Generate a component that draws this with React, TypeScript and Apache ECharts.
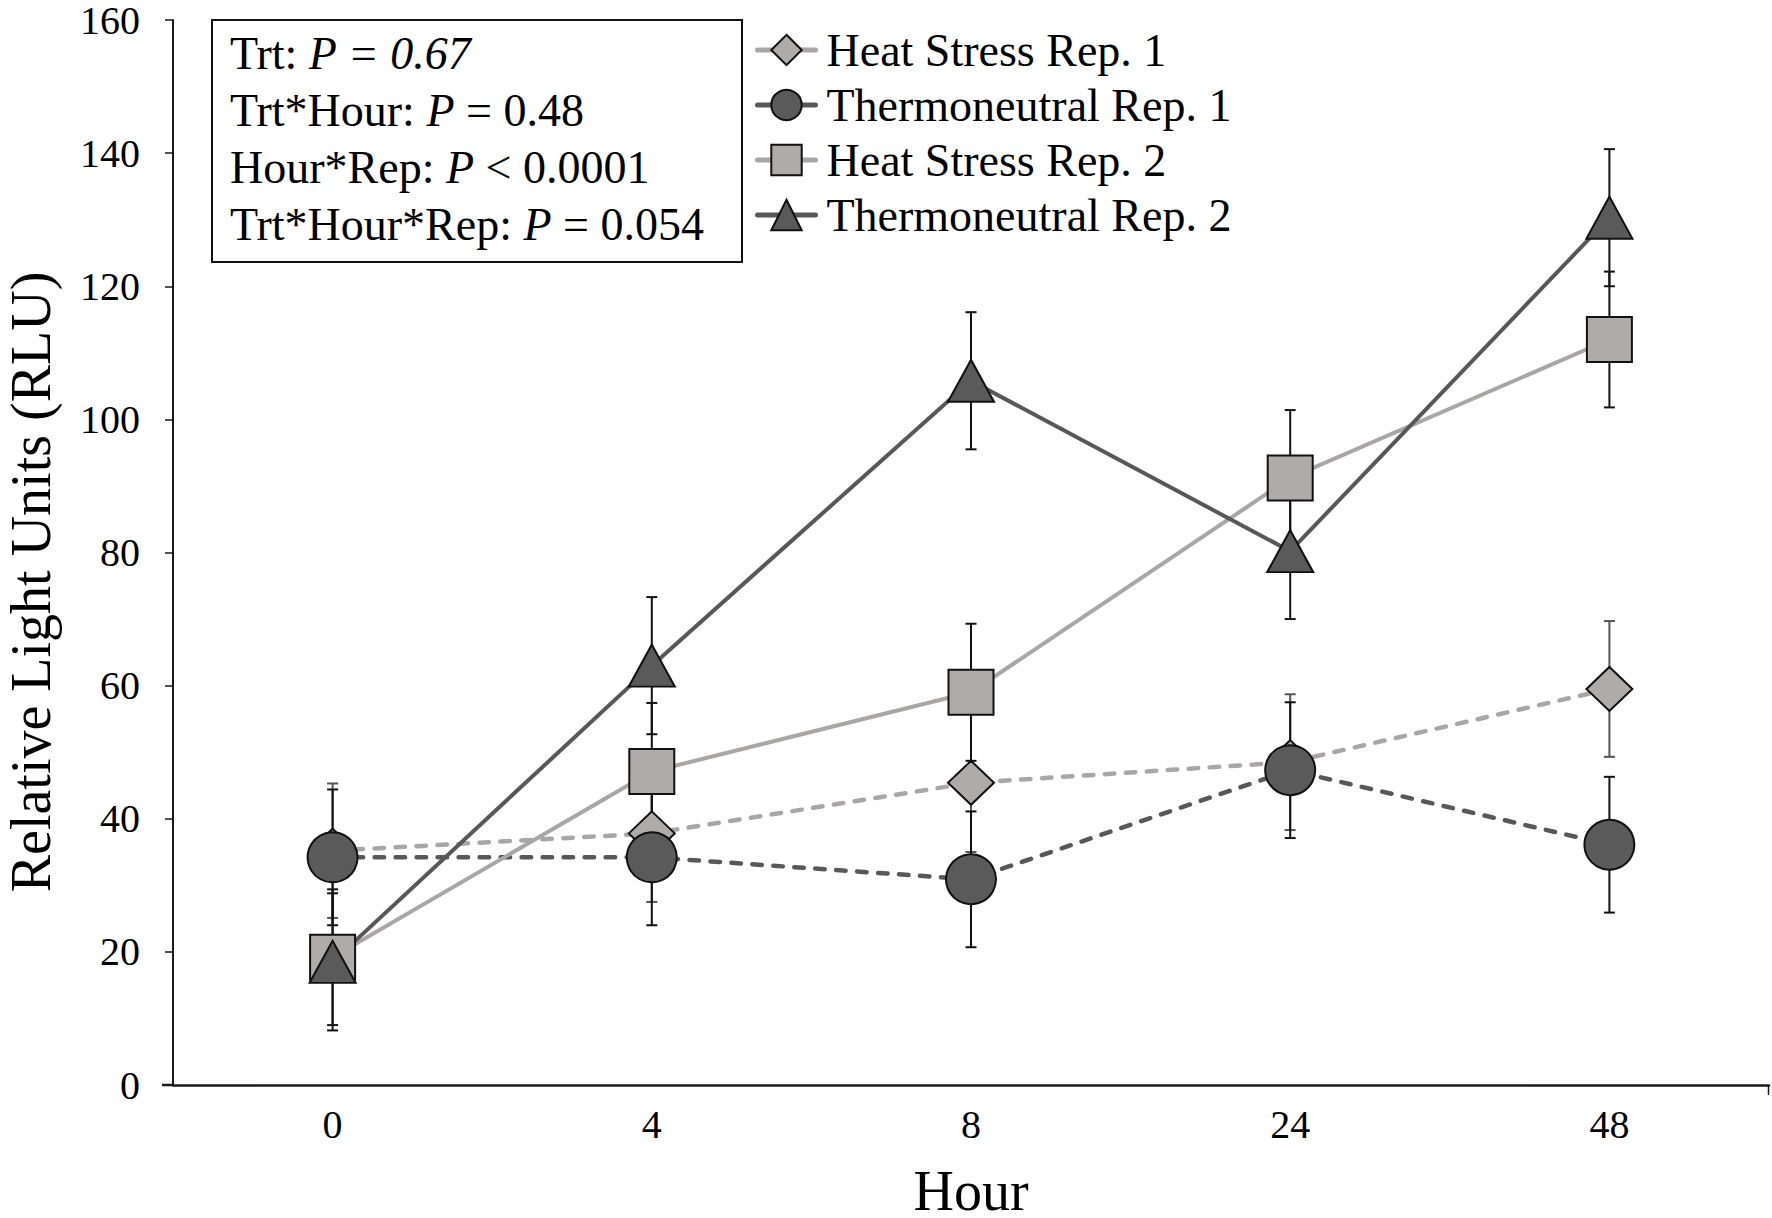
import React, { useEffect, useRef } from 'react';
import * as echarts from 'echarts';

// ---- data ----
const hours = ['0', '4', '8', '24', '48'];
const seriesNames = ['Heat Stress Rep. 1', 'Thermoneutral Rep. 1', 'Heat Stress Rep. 2', 'Thermoneutral Rep. 2'];
const heatStressRep1 = [35.2, 37.8, 45.4, 48.5, 59.5];
const thermoneutralRep1 = [34.2, 34.2, 30.9, 47.3, 36.1];
const heatStressRep2 = [19.2, 47.1, 59.0, 91.2, 112.0];
const thermoneutralRep2 = [18.5, 63.0, 105.8, 80.2, 130.3];
const seHeatStressRep1 = [10.1, 10.3, 10.4, 10.2, 10.2];
const seThermoneutralRep1 = [10.2, 10.2, 10.2, 10.2, 10.2];
const seHeatStressRep2 = [10.2, 10.3, 10.3, 10.2, 10.2];
const seThermoneutralRep2 = [10.3, 10.3, 10.3, 10.2, 10.3];
const yMin = 0;
const yMax = 160;
const yInterval = 20;
const statLines = [
  'Trt: {i|P = 0.67}',
  'Trt*Hour: {i|P} = 0.48',
  'Hour*Rep: {i|P} < 0.0001',
  'Trt*Hour*Rep: {i|P} = 0.054',
];
const yTitle = 'Relative Light Units (RLU)';
const xTitle = 'Hour';

const FONT = '"Liberation Serif", "Times New Roman", serif';
const LIGHT_FILL = '#AEABAB';
const LIGHT_LINE = '#A9A6A6';
const DARK_FILL = '#5A5A5A';
const DARK_LINE = '#585858';

function errorBars(values: number[], se: number[], color: string) {
  return {
    type: 'custom',
    z: 1,
    silent: true,
    data: values.map((v, i) => [i, v - se[i], v + se[i]]),
    encode: { x: 0, y: [1, 2] },
    renderItem: (_params: any, api: any) => {
      const x = api.value(0);
      const lo = api.coord([x, api.value(1)]);
      const hi = api.coord([x, api.value(2)]);
      const half = 5.5;
      const style = { stroke: color, lineWidth: 2 };
      return {
        type: 'group',
        children: [
          { type: 'line', shape: { x1: hi[0], y1: hi[1], x2: lo[0], y2: lo[1] }, style },
          { type: 'line', shape: { x1: hi[0] - half, y1: hi[1], x2: hi[0] + half, y2: hi[1] }, style },
          { type: 'line', shape: { x1: lo[0] - half, y1: lo[1], x2: lo[0] + half, y2: lo[1] }, style },
        ],
      };
    },
  };
}

function lineSeries(name: string, data: number[], symbol: string, size: any, fill: string, line: string, dashed: boolean) {
  return {
    name,
    type: 'line',
    data,
    z: 2,
    symbol,
    symbolSize: size,
    showAllSymbol: true,
    lineStyle: dashed
      ? { color: line, width: 4.5, type: [9.5, 11.5], cap: 'round' }
      : { color: line, width: 4, type: 'solid' },
    itemStyle: { color: fill, borderColor: '#111', borderWidth: 2 },
  };
}

export default function App() {
  const ref = useRef<HTMLDivElement>(null);
  useEffect(() => {
    if (!ref.current) return;
    const chart = echarts.init(ref.current, undefined, { renderer: 'svg' });
    const left = 173;
    const top = 18;
    const right = 1769;
    const bottom = 1085;
    chart.setOption({
      animation: false,
      textStyle: { fontFamily: FONT },
      grid: { left, top, right: 1772 - right, bottom: 1218 - bottom, containLabel: false },
      xAxis: {
        type: 'category',
        data: hours,
        boundaryGap: true,
        axisLine: { lineStyle: { color: '#1a1a1a', width: 2.5 } },
        axisTick: { alignWithLabel: true, length: 10, lineStyle: { color: '#1a1a1a', width: 1.5 } },
        axisLabel: { fontSize: 40, fontFamily: FONT, color: '#000', margin: 24, lineHeight: 30 },
        splitLine: { show: false },
      },
      yAxis: {
        type: 'value',
        min: yMin,
        max: yMax,
        interval: yInterval,
        axisLine: { show: true, lineStyle: { color: '#1a1a1a', width: 2 } },
        axisTick: { show: true, length: 8, lineStyle: { color: '#1a1a1a', width: 1.5 } },
        axisLabel: { fontSize: 40, fontFamily: FONT, color: '#000', margin: 33, lineHeight: 30 },
        splitLine: { show: false },
      },
      legend: {
        orient: 'vertical',
        left: 750,
        top: 22,
        itemWidth: 58,
        itemHeight: 38,
        itemGap: 9,
        data: seriesNames,
        lineStyle: { width: 5, type: 'solid', cap: 'round' },
        textStyle: { fontSize: 46, fontFamily: FONT, color: '#000', padding: [0, 0, 0, 6] },
      },
      graphic: [
        { type: 'rect', shape: { x: 212, y: 20, width: 530, height: 242 }, style: { fill: '#fff', stroke: '#111', lineWidth: 2 }, z: 10 },
        ...statLines.map((t, i) => ({
          type: 'text',
          x: 230,
          y: 53 + i * 57,
          z: 11,
          style: {
            text: t,
            fontSize: 46,
            fontFamily: FONT,
            fill: '#000',
            align: 'left',
            verticalAlign: 'middle',
            rich: { i: { fontStyle: 'italic', fontSize: 46, fontFamily: FONT, fill: '#000' } },
          },
        })),
        {
          type: 'text',
          x: 31,
          y: 582,
          rotation: Math.PI / 2,
          style: { text: yTitle, fontSize: 56, fontFamily: FONT, fill: '#000', align: 'center', verticalAlign: 'middle', lineHeight: 56 },
        },
        {
          type: 'text',
          x: (left + right) / 2,
          y: 1191,
          style: { text: xTitle, fontSize: 56, fontFamily: FONT, fill: '#000', align: 'center', verticalAlign: 'middle', lineHeight: 40 },
        },
        { type: 'line', shape: { x1: 162, y1: bottom, x2: left, y2: bottom }, style: { stroke: '#1a1a1a', lineWidth: 2.5 } },
        { type: 'line', shape: { x1: right - 0.5, y1: bottom, x2: right - 0.5, y2: bottom + 10 }, style: { stroke: '#1a1a1a', lineWidth: 1.5 } },
      ],
      series: [
        errorBars(heatStressRep1, seHeatStressRep1, '#555'),
        errorBars(thermoneutralRep1, seThermoneutralRep1, '#111'),
        errorBars(heatStressRep2, seHeatStressRep2, '#111'),
        errorBars(thermoneutralRep2, seThermoneutralRep2, '#111'),
        lineSeries(seriesNames[0], heatStressRep1, 'diamond', [46, 44], LIGHT_FILL, LIGHT_LINE, true),
        lineSeries(seriesNames[1], thermoneutralRep1, 'circle', 50, DARK_FILL, DARK_LINE, true),
        lineSeries(seriesNames[2], heatStressRep2, 'rect', 45, LIGHT_FILL, LIGHT_LINE, false),
        lineSeries(seriesNames[3], thermoneutralRep2, 'triangle', [46, 42], DARK_FILL, DARK_LINE, false),
      ],
    });
    return () => chart.dispose();
  }, []);
  return <div ref={ref} style={{ position: 'fixed', left: 0, top: 0, width: 1772, height: 1218, background: '#fff' }} />;
}
